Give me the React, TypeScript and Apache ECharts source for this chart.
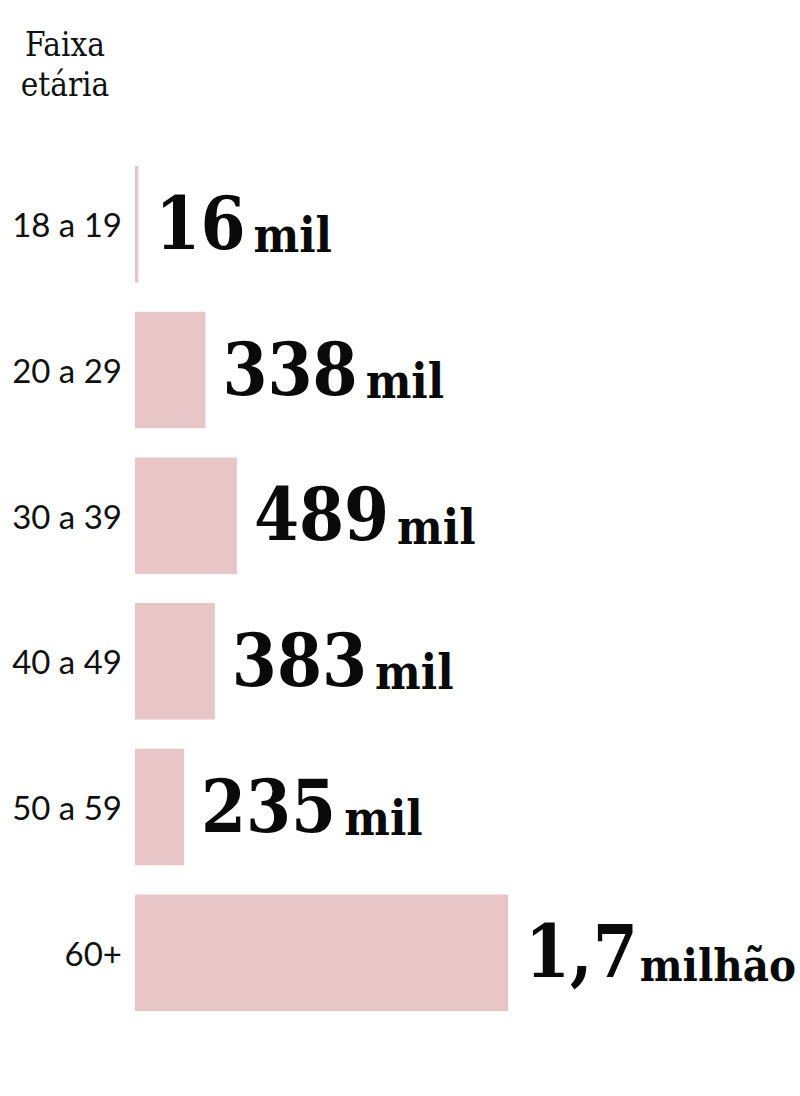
import React, { useEffect, useRef } from "react";
import * as echarts from "echarts";

const categories = ["18 a 19", "20 a 29", "30 a 39", "40 a 49", "50 a 59", "60+"];
// voters in thousands (bar lengths)
const voters = [16, 338, 489, 383, 235, 1790];
const valueTexts = ["16", "338", "489", "383", "235", "1,7"];
const unitTexts = ["mil", "mil", "mil", "mil", "mil", "milhão"];
const axisTitle = "Faixa\netária";

const SERIF = "'DejaVu Serif Condensed', 'DejaVu Serif', serif";
const SANS = "Lato, 'Open Sans', sans-serif";

export default function App() {
  const ref = useRef<HTMLDivElement>(null);
  useEffect(() => {
    document.body.style.margin = "0";
    if (!ref.current) return;
    const chart = echarts.init(ref.current, undefined, { renderer: "svg" });
    chart.setOption({
      animation: false,
      backgroundColor: "#ffffff",
      grid: { left: 135, right: 144, top: 151.5, bottom: 70.5, containLabel: false },
      xAxis: { type: "value", min: 0, max: 2500, show: false },
      yAxis: {
        type: "category",
        data: categories,
        inverse: true,
        axisLine: { show: false },
        axisTick: { show: false },
        splitLine: { show: false },
        axisLabel: {
          margin: 13,
          fontFamily: SANS,
          fontSize: 33,
          color: "#111111",
        },
      },
      graphic: [
        {
          type: "text",
          x: 65,
          y: 64,
          style: {
            text: axisTitle,
            fontFamily: SERIF,
            fontSize: 33,
            lineHeight: 40,
            fill: "#111111",
            textAlign: "center",
            textVerticalAlign: "middle",
          },
        },
      ],
      series: [
        {
          type: "bar",
          data: voters,
          barCategoryGap: "20%",
          itemStyle: { color: "#e8c5c6" },
          label: {
            show: true,
            position: "right",
            distance: 17,
            offset: [0, -5],
            formatter: (p: any) => {
              const i = p.dataIndex;
              const u = unitTexts[i].length > 3 ? "unitL" : "unit";
              return `{num|${valueTexts[i]}}{${u}|${unitTexts[i]}}`;
            },
            rich: {
              num: {
                fontFamily: SERIF,
                fontWeight: "bold",
                fontSize: 72,
                color: "#0a0a0a",
                verticalAlign: "bottom",
                lineHeight: 80,
              },
              unit: {
                fontFamily: SERIF,
                fontWeight: "bold",
                fontSize: 48,
                color: "#0a0a0a",
                verticalAlign: "bottom",
                lineHeight: 80,
                padding: [0, 0, 0, 8],
              },
              unitL: {
                fontFamily: SERIF,
                fontWeight: "bold",
                fontSize: 45,
                color: "#0a0a0a",
                verticalAlign: "bottom",
                lineHeight: 80,
                padding: [0, 0, 0, 2],
              },
            },
          },
        },
      ],
    });
    return () => chart.dispose();
  }, []);
  return <div ref={ref} style={{ width: 800, height: 1096 }} />;
}
